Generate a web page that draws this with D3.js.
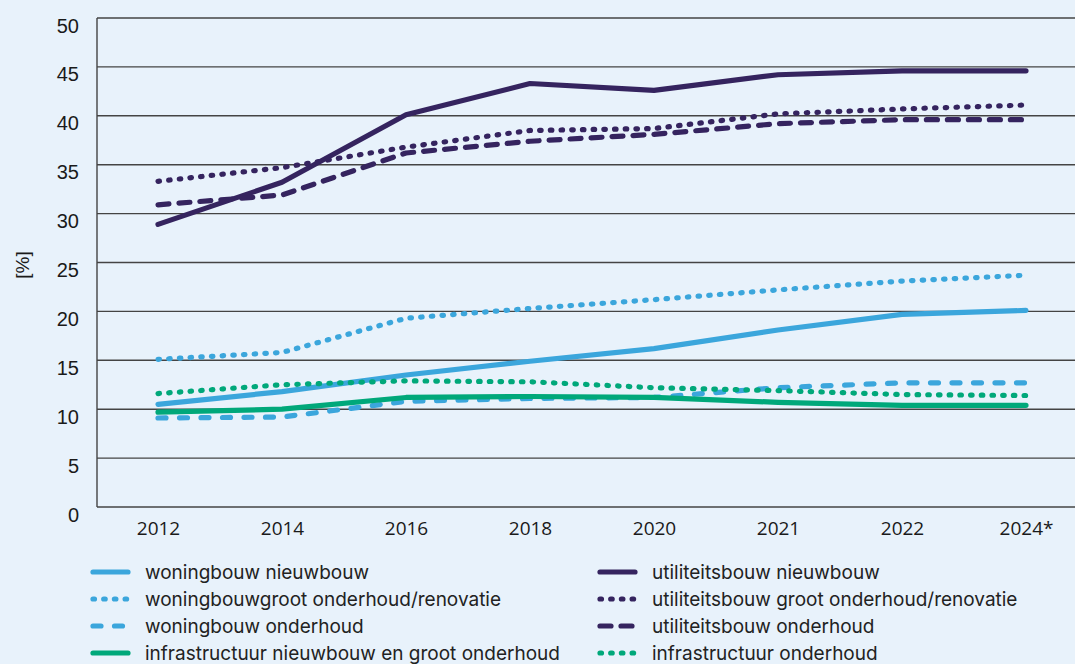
<!DOCTYPE html>
<html>
<head>
<meta charset="utf-8">
<script src="https://cdn.jsdelivr.net/npm/d3@7"></script>
<style>
  html, body { margin: 0; padding: 0; background: #E8F2FB; }
  svg { display: block; }
</style>
</head>
<body>
<svg id="chart" width="1075" height="664"></svg>
<script>
// Jaartallen op de x-as
const years = ["2012", "2014", "2016", "2018", "2020", "2021", "2022", "2024*"];
const yTicks = [0, 5, 10, 15, 20, 25, 30, 35, 40, 45, 50];

// Aandeel per segment [%]
const woningbouwNieuwbouw        = [10.5, 11.8, 13.5, 14.9, 16.2, 18.1, 19.7, 20.1];
const woningbouwGrootOnderhoud   = [15.1, 15.8, 19.3, 20.3, 21.2, 22.2, 23.1, 23.7];
const woningbouwOnderhoud        = [9.1, 9.2, 10.8, 11.1, 11.2, 12.2, 12.7, 12.7];
const infraNieuwbouwGroot        = [9.7, 10.0, 11.2, 11.3, 11.2, 10.7, 10.4, 10.4];
const utiliteitsbouwNieuwbouw    = [28.9, 33.2, 40.1, 43.3, 42.6, 44.2, 44.6, 44.6];
const utiliteitsbouwGrootOnderh  = [33.3, 34.7, 36.8, 38.5, 38.7, 40.2, 40.7, 41.1];
const utiliteitsbouwOnderhoud    = [30.9, 31.9, 36.2, 37.4, 38.1, 39.2, 39.6, 39.6];
const infraOnderhoud             = [11.6, 12.5, 12.9, 12.8, 12.2, 11.9, 11.5, 11.4];

const BLUE = "#3BA6DC", PURPLE = "#35245F", GREEN = "#00A87A";
const SOLID = null, DOTS = "1.5,9.2", DASH_BLUE = "8,13.5", DASH_PURPLE = "11,10";

// Volgorde van de legenda: eerst linkerkolom, dan rechterkolom
const series = [
  { name: "woningbouw nieuwbouw", values: woningbouwNieuwbouw, color: BLUE, dash: SOLID, col: 0, row: 0 },
  { name: "woningbouwgroot onderhoud/renovatie", values: woningbouwGrootOnderhoud, color: BLUE, dash: DOTS, col: 0, row: 1 },
  { name: "woningbouw onderhoud", values: woningbouwOnderhoud, color: BLUE, dash: DASH_BLUE, col: 0, row: 2 },
  { name: "infrastructuur nieuwbouw en groot onderhoud", values: infraNieuwbouwGroot, color: GREEN, dash: SOLID, col: 0, row: 3 },
  { name: "utiliteitsbouw nieuwbouw", values: utiliteitsbouwNieuwbouw, color: PURPLE, dash: SOLID, col: 1, row: 0 },
  { name: "utiliteitsbouw groot onderhoud/renovatie", values: utiliteitsbouwGrootOnderh, color: PURPLE, dash: DOTS, col: 1, row: 1 },
  { name: "utiliteitsbouw onderhoud", values: utiliteitsbouwOnderhoud, color: PURPLE, dash: DASH_PURPLE, col: 1, row: 2 },
  { name: "infrastructuur onderhoud", values: infraOnderhoud, color: GREEN, dash: DOTS, col: 1, row: 3 }
];

const svg = d3.select("#chart");
const plot = { left: 97, right: 1075, top: 18, bottom: 507 };

const x = d3.scalePoint().domain(years).range([158, 1026]);
const y = d3.scaleLinear().domain([0, 50]).range([plot.bottom, plot.top]);

// Horizontale rasterlijnen
svg.append("g")
  .selectAll("line")
  .data(yTicks)
  .join("line")
  .attr("x1", plot.left).attr("x2", plot.right)
  .attr("y1", d => y(d)).attr("y2", d => y(d))
  .attr("stroke", "#444").attr("stroke-width", 1.4);

// Verticale aslijn links
svg.append("line")
  .attr("x1", plot.left).attr("x2", plot.left)
  .attr("y1", plot.top).attr("y2", plot.bottom)
  .attr("stroke", "#444").attr("stroke-width", 1.4);

// Y-as labels
const yAxis = d3.axisLeft(y).tickValues(yTicks).tickSize(0).tickPadding(0);
const gy = svg.append("g").attr("transform", `translate(79,0)`).call(yAxis);
gy.select(".domain").remove();
gy.selectAll("text")
  .attr("dy", 0)
  .attr("y", 14)
  .style("font-family", "'Liberation Sans', Arial, sans-serif")
  .style("font-size", "20px")
  .attr("fill", "#1a1a1a");

// X-as labels
const xAxis = d3.axisBottom(x).tickSize(0).tickPadding(0);
const gx = svg.append("g").attr("transform", `translate(0,${plot.bottom})`).call(xAxis);
gx.select(".domain").remove();
gx.selectAll("text")
  .attr("y", 28)
  .attr("dy", 0)
  .style("font-family", "'Open Sans', sans-serif")
  .style("font-size", "19px")
  .attr("fill", "#1a1a1a");

// Titel y-as
svg.append("text")
  .attr("transform", "translate(29,265) rotate(-90)")
  .attr("text-anchor", "middle")
  .style("font-family", "'Liberation Sans', Arial, sans-serif")
  .style("font-size", "19px")
  .attr("fill", "#1a1a1a")
  .text("[%]");

// Lijnen
const line = d3.line()
  .x((d, i) => x(years[i]))
  .y(d => y(d));

svg.append("g")
  .selectAll("path")
  .data(series)
  .join("path")
  .attr("d", d => line(d.values))
  .attr("fill", "none")
  .attr("stroke", d => d.color)
  .attr("stroke-width", 5.2)
  .attr("stroke-linecap", "round")
  .attr("stroke-linejoin", "round")
  .attr("stroke-dasharray", d => d.dash);

// Legenda
const legendX = [93, 600], legendY = 572, rowH = 27;
const lg = svg.append("g")
  .selectAll("g")
  .data(series)
  .join("g")
  .attr("transform", d => `translate(${legendX[d.col]},${legendY + d.row * rowH})`);

lg.append("line")
  .attr("x1", 0).attr("x2", 35)
  .attr("y1", 0).attr("y2", 0)
  .attr("stroke", d => d.color)
  .attr("stroke-width", 5.2)
  .attr("stroke-linecap", "round")
  .attr("stroke-dasharray", d => d.dash);

lg.append("text")
  .attr("x", 52)
  .attr("y", 7)
  .style("font-family", "Inter, 'Liberation Sans', sans-serif")
  .style("font-size", "19px")
  .attr("fill", "#222")
  .text(d => d.name);
</script>
</body>
</html>
